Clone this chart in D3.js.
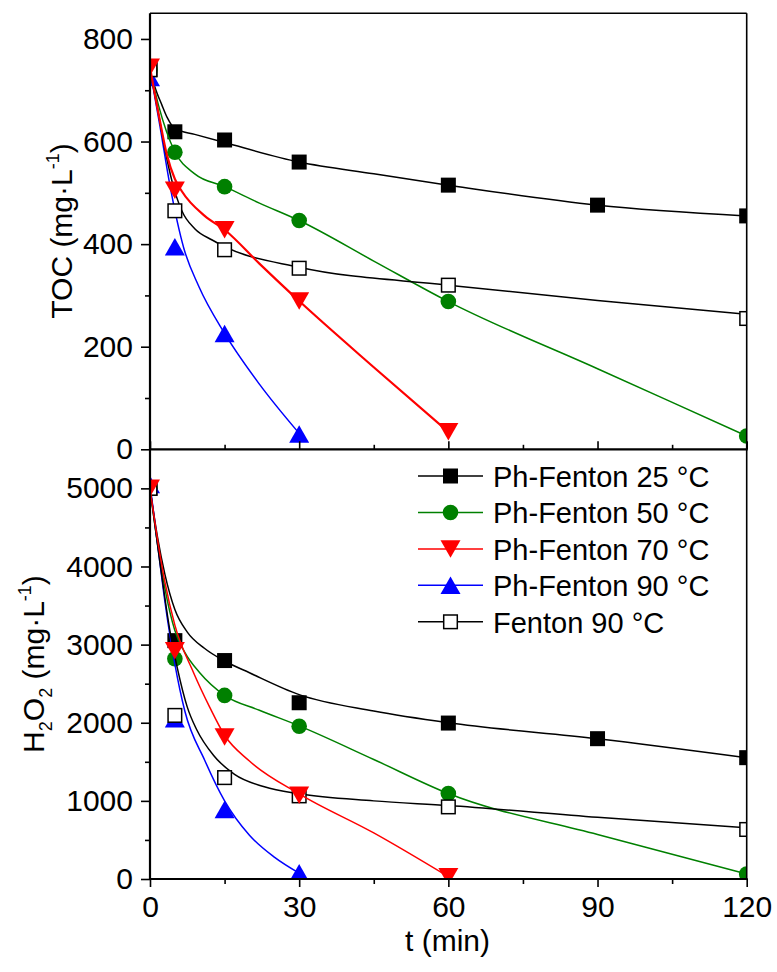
<!DOCTYPE html>
<html>
<head>
<meta charset="utf-8">
<script src="https://cdn.jsdelivr.net/npm/d3@7"></script>
<style>
  html, body { margin: 0; padding: 0; background: #fff; }
  svg { display: block; }
  text { font-family: "Liberation Sans", Arial, sans-serif; fill: #000; }
</style>
</head>
<body>
<svg id="chart" width="777" height="972"></svg>
<script>
// ---------------- DATA ----------------
const seriesNames = ["Ph-Fenton 25 \u00B0C", "Ph-Fenton 50 \u00B0C", "Ph-Fenton 70 \u00B0C", "Ph-Fenton 90 \u00B0C", "Fenton 90 \u00B0C"];

// x ticks (min)
const xMajorTicks = [0, 30, 60, 90, 120];
const xMinorTicks = [15, 45, 75, 105];
// TOC ticks
const tocMajorTicks = [0, 200, 400, 600, 800];
const tocMinorTicks = [100, 300, 500, 700];
// H2O2 ticks
const h2o2MajorTicks = [0, 1000, 2000, 3000, 4000, 5000];
const h2o2MinorTicks = [500, 1500, 2500, 3500, 4500];

// TOC measured points [t, TOC]
const toc25 = [[0, 740], [5, 619], [15, 603], [30, 560], [60, 515], [90, 476], [120, 455]];
const toc50 = [[0, 740], [5, 579], [15, 512], [30, 446], [60, 288], [120, 26]];
const toc70 = [[0, 745], [5, 505], [15, 428], [30, 289], [60, 34]];
const toc90 = [[0, 725], [5, 395], [15, 226], [30, 30]];
const tocF90 = [[0, 740], [5, 465], [15, 389], [30, 353], [60, 320], [120, 255]];

// TOC fitted curves [t, TOC]
const tocFit25 = [[0, 740], [1, 706], [2.4, 671], [3.5, 646], [5, 625], [9, 614], [15, 598], [30, 560], [45, 537], [60, 515], [90, 476], [120, 455]];
const tocFit50 = [[0, 740], [1.7, 671], [3.3, 620], [5, 580], [9, 537], [15, 512], [22, 480], [30, 446], [45, 367], [60, 288], [90, 157], [120, 26]];
const tocFit70 = [[0, 745], [2, 640], [3.4, 574], [5, 527], [6.4, 503], [11, 455], [15, 428], [22, 362], [30, 289], [45, 160], [60, 34]];
const tocFit90 = [[0, 740], [2, 630], [4, 515], [6.8, 392], [9.8, 318], [15, 226], [22, 127], [30, 31]];
const tocFitF90 = [[0, 740], [1.5, 665], [3, 585], [4.5, 520], [6.4, 465], [9, 430], [12.5, 408], [15, 395], [30, 355], [60, 320], [90, 290], [120, 263]];

// H2O2 measured points [t, H2O2]
const h2o2_25 = [[0, 5000], [5, 3051], [15, 2796], [30, 2256], [60, 1996], [90, 1796], [120, 1553]];
const h2o2_50 = [[0, 5000], [5, 2820], [15, 2350], [30, 1955], [60, 1094], [120, 64]];
const h2o2_70 = [[0, 5000], [5, 2923], [15, 1817], [30, 1072], [60, 30]];
const h2o2_90 = [[0, 5050], [5, 2051], [15, 890], [30, 80]];
const h2o2_F90 = [[0, 5000], [5, 2094], [15, 1298], [30, 1064], [60, 923], [120, 634]];

// H2O2 fitted curves [t, H2O2]
const h2o2Fit25 = [[0, 5000], [1.5, 4380], [3, 3900], [5, 3450], [7.5, 3160], [11, 2950], [15, 2790], [20, 2640], [30, 2360], [45, 2150], [60, 2000], [90, 1796], [120, 1553]];
const h2o2Fit50 = [[0, 5000], [1.5, 4300], [3, 3720], [5, 3180], [7, 2900], [10, 2640], [15, 2350], [22, 2160], [30, 1960], [45, 1530], [60, 1094], [90, 570], [120, 64]];
const h2o2Fit70 = [[0, 5000], [1.5, 4350], [3, 3800], [5, 3250], [8.7, 2650], [12, 2200], [15, 1840], [20, 1510], [30, 1090], [45, 590], [60, 30]];
const h2o2Fit90 = [[0, 5050], [1.5, 4300], [3, 3550], [5, 2750], [7, 2150], [11, 1520], [15, 1000], [20, 560], [25, 280], [30, 75]];
const h2o2FitF90 = [[0, 5000], [2, 4050], [4, 3180], [5.5, 2700], [7.5, 2200], [9.4, 1910], [12.8, 1580], [17, 1340], [23, 1180], [30, 1090], [45, 1000], [60, 940], [90, 790], [120, 655]];

// ---------------- STYLES ----------------
const colors = ["#000000", "#008000", "#ff0000", "#0000ff", "#000000"];
const markers = ["square", "circle", "tridown", "triup", "opensquare"];
const FONT = 30;
const fmt = d3.format("d");

// ---------------- LAYOUT ----------------
const svg = d3.select("#chart");
const x = d3.scaleLinear().domain([0, 120]).range([150, 746.7]);
const yTop = d3.scaleLinear().domain([0, 850]).range([449.3, 13.3]);
const yBot = d3.scaleLinear().domain([0, 5500]).range([879, 449.3]);

const defs = svg.append("defs");
defs.append("clipPath").attr("id", "clipTop").append("rect")
  .attr("x", x(0)).attr("y", yTop(850)).attr("width", x(120) - x(0)).attr("height", yTop(0) - yTop(850));
defs.append("clipPath").attr("id", "clipBot").append("rect")
  .attr("x", x(0)).attr("y", yBot(5500)).attr("width", x(120) - x(0)).attr("height", yBot(0) - yBot(5500));

function drawMarker(g, type, cx, cy, color) {
  const s = 15;
  if (type === "square") {
    g.append("rect").attr("x", cx - s / 2).attr("y", cy - s / 2).attr("width", s).attr("height", s).attr("fill", color);
  } else if (type === "opensquare") {
    g.append("rect").attr("x", cx - 6.8).attr("y", cy - 6.8).attr("width", 13.6).attr("height", 13.6)
      .attr("fill", "#fff").attr("stroke", color).attr("stroke-width", 1.5);
  } else if (type === "circle") {
    g.append("circle").attr("cx", cx).attr("cy", cy).attr("r", 7.8).attr("fill", color);
  } else if (type === "triup") {
    const w = 20, h = 17.5;
    g.append("path").attr("d", `M${cx},${cy - h / 2}L${cx + w / 2},${cy + h / 2}L${cx - w / 2},${cy + h / 2}Z`).attr("fill", color);
  } else if (type === "tridown") {
    const w = 20, h = 17.5;
    g.append("path").attr("d", `M${cx},${cy + h / 2}L${cx + w / 2},${cy - h / 2}L${cx - w / 2},${cy - h / 2}Z`).attr("fill", color);
  }
}

function drawPanel(yScale, clipId, pointsList, fitList, lineWidths) {
  const g = svg.append("g").attr("clip-path", `url(#${clipId})`);
  const line = d3.line().x(d => x(d[0])).y(d => yScale(d[1])).curve(d3.curveMonotoneX);
  // draw order: 25, 50, 90, Fenton, 70
  const order = [0, 1, 3, 4, 2];
  order.forEach(i => {
    const sg = g.append("g");
    sg.append("path").attr("d", line(fitList[i])).attr("fill", "none")
      .attr("stroke", colors[i]).attr("stroke-width", lineWidths[i]);
    pointsList[i].forEach(p => drawMarker(sg, markers[i], x(p[0]), yScale(p[1]), colors[i]));
  });
}

drawPanel(yTop, "clipTop",
  [toc25, toc50, toc70, toc90, tocF90],
  [tocFit25, tocFit50, tocFit70, tocFit90, tocFitF90],
  [1.5, 1.5, 2.2, 1.5, 1.5]);
drawPanel(yBot, "clipBot",
  [h2o2_25, h2o2_50, h2o2_70, h2o2_90, h2o2_F90],
  [h2o2Fit25, h2o2Fit50, h2o2Fit70, h2o2Fit90, h2o2FitF90],
  [1.5, 1.5, 1.5, 1.5, 1.5]);

// ---------------- AXES ----------------
function styleAxis(g, width) {
  g.select(".domain").remove();
  g.attr("font-family", null).attr("font-size", null);
  g.selectAll(".tick line").attr("stroke", "#000").attr("stroke-width", width);
  g.selectAll(".tick text").attr("font-size", FONT).attr("fill", "#000");
}

// top panel: left axis
const gTL = svg.append("g").attr("transform", `translate(${x(0)},0)`)
  .call(d3.axisLeft(yTop).tickValues(tocMajorTicks).tickFormat(fmt).tickSize(9).tickPadding(8).tickSizeOuter(0));
styleAxis(gTL, 1.6);
const gTLm = svg.append("g").attr("transform", `translate(${x(0)},0)`)
  .call(d3.axisLeft(yTop).tickValues(tocMinorTicks).tickSize(5).tickFormat("").tickSizeOuter(0));
styleAxis(gTLm, 1.6);

// top panel: bottom axis (ticks inward, no labels)
const gTB = svg.append("g").attr("transform", `translate(0,${yTop(0)})`)
  .call(d3.axisBottom(x).tickValues(xMajorTicks).tickSize(-8).tickFormat("").tickSizeOuter(0));
styleAxis(gTB, 1.6);
const gTBm = svg.append("g").attr("transform", `translate(0,${yTop(0)})`)
  .call(d3.axisBottom(x).tickValues(xMinorTicks).tickSize(-4.5).tickFormat("").tickSizeOuter(0));
styleAxis(gTBm, 1.6);

// bottom panel: left axis
const gBL = svg.append("g").attr("transform", `translate(${x(0)},0)`)
  .call(d3.axisLeft(yBot).tickValues(h2o2MajorTicks).tickFormat(fmt).tickSize(9).tickPadding(8).tickSizeOuter(0));
styleAxis(gBL, 1.6);
const gBLm = svg.append("g").attr("transform", `translate(${x(0)},0)`)
  .call(d3.axisLeft(yBot).tickValues(h2o2MinorTicks).tickSize(5).tickFormat("").tickSizeOuter(0));
styleAxis(gBLm, 1.6);

// bottom panel: bottom axis (ticks outward, labels)
const gBB = svg.append("g").attr("transform", `translate(0,${yBot(0)})`)
  .call(d3.axisBottom(x).tickValues(xMajorTicks).tickFormat(fmt).tickSize(8).tickPadding(9).tickSizeOuter(0));
styleAxis(gBB, 1.6);
const gBBm = svg.append("g").attr("transform", `translate(0,${yBot(0)})`)
  .call(d3.axisBottom(x).tickValues(xMinorTicks).tickSize(5).tickFormat("").tickSizeOuter(0));
styleAxis(gBBm, 1.6);

// frames
const frame = svg.append("g").attr("fill", "none").attr("stroke", "#000");
frame.append("line").attr("x1", x(0)).attr("x2", x(0)).attr("y1", yTop(850)).attr("y2", yBot(0)).attr("stroke-width", 2.2);
frame.append("line").attr("x1", x(0) - 1).attr("x2", x(120) + 1).attr("y1", yTop(0)).attr("y2", yTop(0)).attr("stroke-width", 2.2);
frame.append("line").attr("x1", x(0) - 1).attr("x2", x(120) + 1).attr("y1", yBot(0)).attr("y2", yBot(0)).attr("stroke-width", 2.2);
frame.append("line").attr("x1", x(0)).attr("x2", x(120)).attr("y1", yTop(850)).attr("y2", yTop(850)).attr("stroke-width", 1.6);
frame.append("line").attr("x1", x(120)).attr("x2", x(120)).attr("y1", yTop(850)).attr("y2", yBot(0)).attr("stroke-width", 1.6);

// ---------------- TITLES ----------------
const tTop = svg.append("text").attr("transform", "translate(72,231) rotate(-90)")
  .attr("text-anchor", "middle").attr("font-size", FONT);
tTop.append("tspan").text("TOC (mg\u00B7L");
tTop.append("tspan").attr("dy", -13).attr("font-size", 18).text("-1");
tTop.append("tspan").attr("dy", 13).text(")");

const tBot = svg.append("text").attr("transform", "translate(44,664) rotate(-90)")
  .attr("text-anchor", "middle").attr("font-size", FONT);
tBot.append("tspan").text("H");
tBot.append("tspan").attr("dy", 8).attr("font-size", 18).text("2");
tBot.append("tspan").attr("dy", -8).text("O");
tBot.append("tspan").attr("dy", 8).attr("font-size", 18).text("2");
tBot.append("tspan").attr("dy", -8).text(" (mg\u00B7L");
tBot.append("tspan").attr("dy", -13).attr("font-size", 18).text("-1");
tBot.append("tspan").attr("dy", 13).text(")");

svg.append("text").attr("x", 447.5).attr("y", 951).attr("text-anchor", "middle")
  .attr("font-size", FONT).text("t (min)");

// ---------------- LEGEND ----------------
const legendY0 = 476, legendDY = 36.45;
const lg = svg.append("g");
seriesNames.forEach((name, i) => {
  const yy = legendY0 + i * legendDY;
  const row = lg.append("g");
  row.append("line").attr("x1", 418).attr("x2", 483).attr("y1", yy).attr("y2", yy)
    .attr("stroke", colors[i]).attr("stroke-width", 1.5);
  drawMarker(row, markers[i], 450.5, yy, colors[i]);
  row.append("text").attr("x", 493).attr("y", yy + 10.7).attr("font-size", 29).text(name);
});
</script>
</body>
</html>
